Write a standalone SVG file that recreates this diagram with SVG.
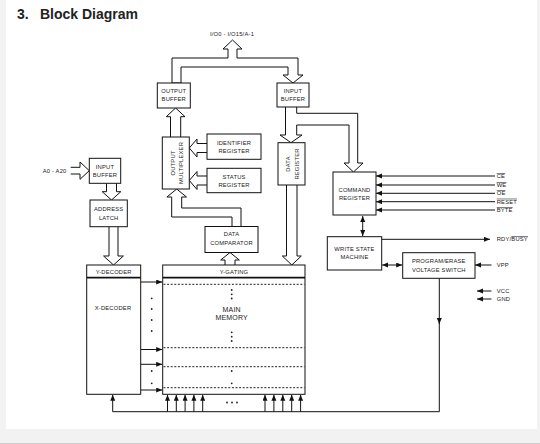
<svg xmlns="http://www.w3.org/2000/svg" width="540" height="444" viewBox="0 0 540 444">
<defs>
<marker id="ah" markerUnits="userSpaceOnUse" markerWidth="7" markerHeight="6" refX="6" refY="2.5" orient="auto-start-reverse"><path d="M0,0 L6,2.5 L0,5 z" fill="#111"/></marker>
</defs>
<style>
.box{fill:#fff;stroke:#111;stroke-width:1}
.t{font-family:"Liberation Sans",Arial,sans-serif;font-size:5.8px;fill:#222;text-anchor:middle;letter-spacing:0.2px}
.tl{font-family:"Liberation Sans",Arial,sans-serif;font-size:5.8px;fill:#222;letter-spacing:0.2px}
.big{fill:#fff;stroke:#111;stroke-width:1;stroke-linejoin:miter}
.ln{fill:none;stroke:#111;stroke-width:1}
.ar{fill:none;stroke:#111;stroke-width:1;marker-end:url(#ah)}
.dash{fill:none;stroke:#222;stroke-width:1;stroke-dasharray:2 1.6}
.dot{fill:#222}
</style>
<rect x="0" y="0" width="540" height="444" fill="#f2f2f2"/>
<rect x="6" y="0" width="531" height="429" fill="#fff"/>
<line x1="0" y1="443.5" x2="540" y2="443.5" stroke="#cfcfcf"/>
<text x="17" y="19" font-family="Liberation Sans,Arial,sans-serif" font-size="14" font-weight="bold" fill="#222">3.</text>
<text x="40" y="19" font-family="Liberation Sans,Arial,sans-serif" font-size="14" font-weight="bold" fill="#222">Block Diagram</text>

<g id="connectors">
<path class="big" d="M172,83 L172,58 L228,58 L228,49 L223,49 L232.5,40 L242,49 L237,49 L237,58 L298,58 L298,75 L303,75 L293,83 L283,75 L288,75 L288,67 L181,67 L181,83 Z"/>
<path class="big" d="M170.5,137 L170.5,116.7 L166.3,116.7 L175.6,108 L185,116.7 L180.7,116.7 L180.7,137"/>
<path class="big" d="M207,143.5 L197,143.5 L197,139 L189.3,148 L197,157 L197,152.5 L207,152.5"/>
<path class="big" d="M207,176 L197,176 L197,171.5 L189.3,180.5 L197,189.5 L197,185 L207,185"/>
<path class="big" d="M241,226.5 L241,208 L181.7,208 L181.7,197 L186.5,197 L176.7,189 L166.9,197 L171.7,197 L171.7,217 L232,217 L232,226.5"/>
<path class="big" d="M285.5,107 L285.5,135 L280,135 L291,142.7 L302,135 L296.7,135 L296.7,125 L349,125 L349,163 L344,163 L353.5,172 L363,163 L357.7,163 L357.7,113.3 L296.7,113.3 L296.7,107"/>
<path class="big" d="M286.5,185 L286.5,256 L282.3,256 L291.8,265 L301.3,256 L297,256 L297,185"/>
<path class="big" d="M225,265 L225,260 L220.7,260 L230,252.5 L239.3,260 L235,260 L235,265"/>
<path class="big" d="M70.7,167.3 L80,167.3 L80,162 L89.3,170.7 L80,179.3 L80,174 L70.7,174"/>
<path class="big" d="M106.5,183.3 L106.5,191.7 L102.2,191.7 L111.5,200 L120.8,191.7 L116.5,191.7 L116.5,183.3"/>
<path class="big" d="M109,226.7 L109,256 L103.6,256 L113.5,265 L123.4,256 L118,256 L118,226.7"/>

<line class="ar" x1="495" y1="176" x2="376" y2="176"/>
<line class="ar" x1="495" y1="185" x2="376" y2="185"/>
<line class="ar" x1="495" y1="193.3" x2="376" y2="193.3"/>
<line class="ar" x1="495" y1="201.7" x2="376" y2="201.7"/>
<line class="ar" x1="495" y1="210" x2="376" y2="210"/>
<line class="ar" x1="381.7" y1="239.3" x2="490" y2="239.3"/>
<line class="ar" x1="491.5" y1="265" x2="475" y2="265"/>
<line class="ar" x1="491.5" y1="291" x2="477" y2="291"/>
<line class="ar" x1="491.5" y1="299" x2="477" y2="299"/>
<line class="ln" x1="362.7" y1="216" x2="362.7" y2="236" marker-start="url(#ah)" marker-end="url(#ah)"/>
<line class="ln" x1="382.2" y1="265" x2="402.2" y2="265" marker-start="url(#ah)" marker-end="url(#ah)"/>
<line class="ar" x1="439.3" y1="278.3" x2="439.3" y2="324"/>
<polyline class="ln" points="439.3,322 439.3,411.7 112.7,411.7"/>
<line class="ar" x1="112.7" y1="411.7" x2="112.7" y2="394.8"/>
<line class="ar" x1="167.5" y1="411.7" x2="167.5" y2="394.8"/>
<line class="ar" x1="176.3" y1="411.7" x2="176.3" y2="394.8"/>
<line class="ar" x1="185.1" y1="411.7" x2="185.1" y2="394.8"/>
<line class="ar" x1="193.9" y1="411.7" x2="193.9" y2="394.8"/>
<line class="ar" x1="202.7" y1="411.7" x2="202.7" y2="394.8"/>
<line class="ar" x1="265" y1="411.7" x2="265" y2="394.8"/>
<line class="ar" x1="273.9" y1="411.7" x2="273.9" y2="394.8"/>
<line class="ar" x1="282.8" y1="411.7" x2="282.8" y2="394.8"/>
<line class="ar" x1="291.7" y1="411.7" x2="291.7" y2="394.8"/>
<line class="ar" x1="300.6" y1="411.7" x2="300.6" y2="394.8"/>
<line class="ar" x1="140.7" y1="282" x2="162.2" y2="282"/>
<line class="ar" x1="140.7" y1="349.5" x2="162.2" y2="349.5"/>
<line class="ar" x1="140.7" y1="364.3" x2="162.2" y2="364.3"/>
<line class="ar" x1="140.7" y1="390" x2="162.2" y2="390"/>
<circle class="dot" cx="151.7" cy="298.3" r="0.9"/>
<circle class="dot" cx="151.7" cy="309" r="0.9"/>
<circle class="dot" cx="151.7" cy="320" r="0.9"/>
<circle class="dot" cx="151.7" cy="331" r="0.9"/>
<circle class="dot" cx="151.7" cy="371" r="0.9"/>
<circle class="dot" cx="151.7" cy="383.3" r="0.9"/>
<circle class="dot" cx="227" cy="402.5" r="0.9"/>
<circle class="dot" cx="232" cy="402.5" r="0.9"/>
<circle class="dot" cx="237" cy="402.5" r="0.9"/>
</g>

<text class="t" x="232" y="36">I/O0 - I/O15/A-1</text>
<text class="tl" x="42.7" y="172.8">A0 - A20</text>

<g id="output-buffer"><rect class="box" x="157.3" y="83" width="33" height="25"/><text class="t" x="173.8" y="93.2">OUTPUT</text><text class="t" x="173.8" y="101.2">BUFFER</text></g>
<g id="input-buffer-io"><rect class="box" x="277" y="83" width="32" height="24"/><text class="t" x="293" y="93.2">INPUT</text><text class="t" x="293" y="101.2">BUFFER</text></g>
<g id="output-multiplexer"><rect class="box" x="162.3" y="137" width="27" height="52"/><text class="t" transform="translate(172.5,163) rotate(-90)" y="2">OUTPUT</text><text class="t" transform="translate(181.3,163) rotate(-90)" y="2">MULTIPLEXER</text></g>
<g id="identifier-register"><rect class="box" x="207" y="134" width="54" height="25.3"/><text class="t" x="234" y="145">IDENTIFIER</text><text class="t" x="234" y="153">REGISTER</text></g>
<g id="status-register"><rect class="box" x="207" y="168.3" width="54" height="24.4"/><text class="t" x="234" y="179">STATUS</text><text class="t" x="234" y="187">REGISTER</text></g>
<g id="data-register"><rect class="box" x="278" y="142.7" width="27" height="42.3"/><text class="t" transform="translate(287.8,164) rotate(-90)" y="2">DATA</text><text class="t" transform="translate(296.5,164) rotate(-90)" y="2">REGISTER</text></g>
<g id="data-comparator"><rect class="box" x="205" y="226.5" width="53" height="26"/><text class="t" x="231.5" y="236">DATA</text><text class="t" x="231.5" y="245">COMPARATOR</text></g>
<g id="command-register"><rect class="box" x="333" y="172" width="43" height="43"/><text class="t" x="354.5" y="192">COMMAND</text><text class="t" x="354.5" y="199.6">REGISTER</text></g>
<g id="write-state-machine"><rect class="box" x="327.3" y="236.7" width="54.4" height="33.3"/><text class="t" x="354.5" y="250.5">WRITE STATE</text><text class="t" x="354.5" y="259">MACHINE</text></g>
<g id="program-erase-switch"><rect class="box" x="402.7" y="252.7" width="72.3" height="25.6"/><text class="t" x="438.8" y="263">PROGRAM/ERASE</text><text class="t" x="438.8" y="272.2">VOLTAGE SWITCH</text></g>
<g id="input-buffer-addr"><rect class="box" x="89.3" y="158.3" width="31.4" height="25"/><text class="t" x="105" y="169">INPUT</text><text class="t" x="105" y="177.2">BUFFER</text></g>
<g id="address-latch"><rect class="box" x="90" y="200" width="37.3" height="26.7"/><text class="t" x="108.7" y="210.5">ADDRESS</text><text class="t" x="108.7" y="219.6">LATCH</text></g>
<g id="decoder"><rect class="box" x="86.7" y="265" width="54" height="129.3"/><line x1="86.7" y1="277.7" x2="140.7" y2="277.7" stroke="#111" stroke-width="1.8"/><text class="t" x="113.7" y="273.6">Y-DECODER</text><text class="t" x="113" y="310">X-DECODER</text></g>
<g id="main-memory"><rect class="box" x="162.7" y="265" width="142.3" height="129.3"/><line x1="162.7" y1="277.7" x2="305" y2="277.7" stroke="#111" stroke-width="1.8"/><text class="t" x="234" y="273.6">Y-GATING</text>
<line class="dash" x1="163.5" y1="284.3" x2="304.5" y2="284.3"/><line class="dash" x1="163.5" y1="347.7" x2="304.5" y2="347.7"/><line class="dash" x1="163.5" y1="366.7" x2="304.5" y2="366.7"/><line class="dash" x1="163.5" y1="387.7" x2="304.5" y2="387.7"/>
<circle class="dot" cx="231.7" cy="290" r="0.9"/><circle class="dot" cx="231.7" cy="294.3" r="0.9"/><circle class="dot" cx="231.7" cy="298.5" r="0.9"/>
<circle class="dot" cx="231.7" cy="332.3" r="0.9"/><circle class="dot" cx="231.7" cy="336.7" r="0.9"/><circle class="dot" cx="231.7" cy="341" r="0.9"/>
<circle class="dot" cx="231.7" cy="371" r="0.9"/><circle class="dot" cx="231.7" cy="383.3" r="0.9"/>
<text class="t" x="231.7" y="311.6" style="font-size:7px">MAIN</text><text class="t" x="231.7" y="320" style="font-size:7px">MEMORY</text></g>

<g id="signal-labels">
<text class="tl" x="496.7" y="178" text-decoration="overline">CE</text>
<text class="tl" x="496.7" y="187" text-decoration="overline">WE</text>
<text class="tl" x="496.7" y="195.3" text-decoration="overline">OE</text>
<text class="tl" x="496.7" y="203.7" text-decoration="overline">RESET</text>
<text class="tl" x="496.7" y="212" text-decoration="overline">BYTE</text>
<text class="tl" x="496.7" y="241.3">RDY/<tspan text-decoration="overline">BUSY</tspan></text>
<text class="tl" x="496.7" y="267">VPP</text>
<text class="tl" x="496.7" y="293">VCC</text>
<text class="tl" x="496.7" y="301">GND</text>
</g>
</svg>
